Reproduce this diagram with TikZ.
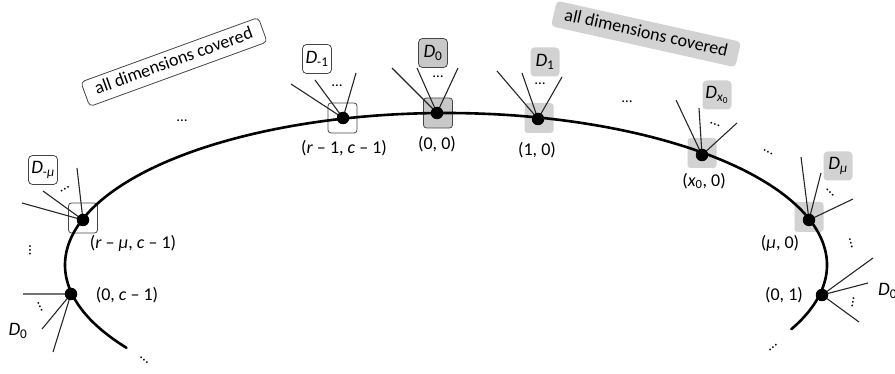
\documentclass[tikz,border=0pt]{standalone}
\usepackage{fontspec}
\setmainfont{Carlito}
\definecolor{boxgray}{RGB}{210,210,210}
\definecolor{boxgrayd}{RGB}{200,200,200}
\definecolor{edgegray}{RGB}{70,70,70}
\tikzset{
  mainarc/.style={line width=2.6pt, line cap=round},
  spokeline/.style={line width=1.1pt, black!85},
  blackdot/.style={circle, fill=black, minimum size=12.5pt, inner sep=0pt},
  hlwhite/.style={draw=edgegray, line width=0.8pt, rounded corners=3pt, minimum width=29pt, minimum height=30pt, inner sep=0pt},
  hlgray/.style={fill=boxgray, rounded corners=3pt, minimum width=29pt, minimum height=30pt, inner sep=0pt},
  hlgrayb/.style={hlgray, fill=boxgrayd, draw=edgegray, line width=0.8pt},
  lblbase/.style={rounded corners=4pt, minimum width=29pt, minimum height=29pt, inner sep=1pt, font=\fontsize{19}{22}\selectfont},
  lblwhite/.style={lblbase, draw=edgegray, line width=0.8pt},
  lblgray/.style={lblbase, fill=boxgray},
  lblgrayb/.style={lblbase, fill=boxgrayd, draw=edgegray, line width=0.8pt},
  plainlbl/.style={inner sep=0pt, font=\fontsize{19}{22}\selectfont},
  coordlbl/.style={inner sep=0pt, font=\fontsize{18}{21}\selectfont},
  dotsym/.style={inner sep=0pt, font=\fontsize{15}{15}\selectfont},
  covered/.style={rounded corners=4pt, inner xsep=11pt, text height=13pt, text depth=4pt, inner ysep=4.5pt, font=\fontsize{18}{21}\selectfont}
}
\begin{document}
\begin{tikzpicture}[x=1pt,y=-1pt]
\useasboundingbox (0,0) rectangle (895,374);

% highlight boxes behind the curve
\node[hlwhite] (bA) at (83,218) {};
\node[hlwhite] (bC) at (342.5,118) {};
\node[hlgrayb] (bD) at (438,113) {};
\node[hlgray] (bE) at (539,118) {};
\node[hlgray] (bF) at (702,153) {};
\node[hlgray] (bG) at (809,217) {};

% main curve
\draw[mainarc] plot[domain=147:385, samples=120, smooth] ({446+381*cos(\x)},{265+152*sin(\x)});

% dot positions
\coordinate (A) at (83,220);
\coordinate (B) at (71,294);
\coordinate (C) at (343,118);
\coordinate (D) at (437,113);
\coordinate (E) at (538,119);
\coordinate (F) at (702,155);
\coordinate (G) at (809,220);
\coordinate (H) at (822,295);

% spokes
\draw[spokeline] (A) -- ++(-61,-17) (A) -- ++(-40,-29) (A) -- ++(-6,-52);
\draw[spokeline] (B) -- ++(-48,0) (B) -- ++(-29,35) (B) -- ++(-18,58);
\draw[spokeline] (C) -- ++(-52,-34) (C) -- ++(-28,-38) (C) -- ++(13,-45);
\draw[spokeline] (D) -- ++(-45,-45) (D) -- ++(-20,-45) (D) -- ++(21,-45);
\draw[spokeline] (E) -- ++(-41,-48) (E) -- ++(-16,-46) (E) -- ++(24,-42);
\draw[spokeline] (F) -- ++(-26,-55) (F) -- ++(-3,-47) (F) -- ++(35,-32);
\draw[spokeline] (G) -- ++(-8,-63) (G) -- ++(12,-47) (G) -- ++(44,-21);
\draw[spokeline] (H) -- ++(51,-37) (H) -- ++(46,-12) (H) -- ++(37,27);

% dots
\foreach \p in {A,B,C,D,E,F,G,H} \node[blackdot] (\p dot) at (\p) {};

% D labels
\node[lblwhite] (LA) at (43,170) {\textit{D}\textsubscript{-\textit{μ}}};
\node[lblwhite] (LC) at (317,59) {\textit{D}\textsubscript{-1}};
\node[lblgrayb] (LD) at (433,53) {\textit{D}\textsubscript{0}};
\node[lblgray] (LE) at (545,62) {\textit{D}\textsubscript{1}};
\node[lblgray] (LF) at (717,95) {\textit{D}\textsubscript{\textit{x}\textsubscript{0}}};
\node[lblgray] (LG) at (838,166) {\textit{D}\textsubscript{\textit{μ}}};
\node[plainlbl] (LB) at (18,331) {\textit{D}\textsubscript{0}};
\node[plainlbl, anchor=west] (LH) at (878,291) {\textit{D}\textsubscript{0}};

% coordinate labels
\node[coordlbl] (cA) at (133,243) {(\textit{r} – \textit{μ}, \textit{c} – 1)};
\node[coordlbl] (cB) at (127,295) {(0, \textit{c} – 1)};
\node[coordlbl] (cC) at (344,148) {(\textit{r} – 1, \textit{c} – 1)};
\node[coordlbl] (cD) at (437,144) {(0, 0)};
\node[coordlbl] (cE) at (537,150) {(1, 0)};
\node[coordlbl] (cF) at (704,181) {(\textit{x}\textsubscript{0}, 0)};
\node[coordlbl] (cG) at (780,243) {(\textit{μ}, 0)};
\node[coordlbl] (cH) at (784,295) {(0, 1)};

% covered labels
\node[covered, draw=edgegray, line width=0.8pt, rotate=20] (cov1) at (174,62) {all dimensions covered};
\node[covered, fill=boxgray, rotate=-12.6] (cov2) at (646,34) {all dimensions covered};

% ellipses
\node[dotsym] (e1) at (182,121) {…};
\node[dotsym, rotate=30] (e2) at (65,189) {…};
\node[dotsym, rotate=90] (e3) at (30,250) {…};
\node[dotsym, rotate=-65] (e4) at (40,307) {…};
\node[dotsym, rotate=-40] (e5) at (144,360) {…};
\node[dotsym] (e6) at (337,86) {…};
\node[dotsym] (e7) at (438,77) {…};
\node[dotsym] (e8) at (540,84) {…};
\node[dotsym] (e9) at (627,102) {…};
\node[dotsym, rotate=-20] (e10) at (715,125) {…};
\node[dotsym, rotate=-28] (e11) at (768,152) {…};
\node[dotsym, rotate=-45] (e12) at (830,193) {…};
\node[dotsym, rotate=-75] (e13) at (851,243) {…};
\node[dotsym, rotate=80] (e14) at (853,302) {…};
\node[dotsym, rotate=40] (e15) at (773,348) {…};
\end{tikzpicture}
\end{document}
